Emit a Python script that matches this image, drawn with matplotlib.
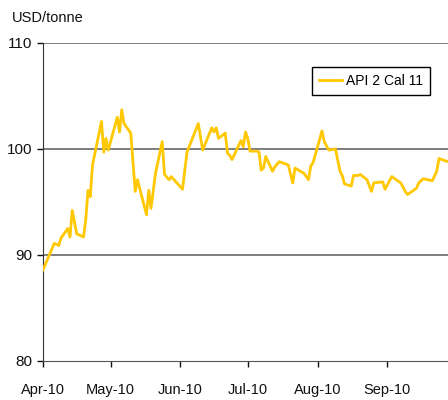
import pandas as pd
import matplotlib
matplotlib.use("Agg")
import matplotlib.pyplot as plt
import matplotlib.dates as mdates

plt.rcParams["font.family"] = ["Liberation Sans Narrow", "Liberation Sans", "DejaVu Sans"]

dates = ["2010-04-01", "2010-04-06", "2010-04-08", "2010-04-09", "2010-04-12", "2010-04-13",
         "2010-04-14", "2010-04-16", "2010-04-19", "2010-04-20", "2010-04-21", "2010-04-22",
         "2010-04-23", "2010-04-27", "2010-04-28", "2010-04-29", "2010-04-30", "2010-05-04",
         "2010-05-05", "2010-05-06", "2010-05-07", "2010-05-10", "2010-05-12", "2010-05-13",
         "2010-05-17", "2010-05-18", "2010-05-19", "2010-05-21", "2010-05-24", "2010-05-25",
         "2010-05-27", "2010-05-28", "2010-06-02", "2010-06-04", "2010-06-09", "2010-06-11",
         "2010-06-15", "2010-06-16", "2010-06-17", "2010-06-18", "2010-06-21", "2010-06-22",
         "2010-06-23", "2010-06-24", "2010-06-28", "2010-06-29", "2010-06-30", "2010-07-01",
         "2010-07-02", "2010-07-05", "2010-07-06", "2010-07-07", "2010-07-08", "2010-07-09",
         "2010-07-12", "2010-07-13", "2010-07-15", "2010-07-19", "2010-07-21", "2010-07-22",
         "2010-07-26", "2010-07-28", "2010-07-29", "2010-07-30", "2010-08-03", "2010-08-04",
         "2010-08-06", "2010-08-09", "2010-08-11", "2010-08-12", "2010-08-13", "2010-08-16",
         "2010-08-17", "2010-08-19", "2010-08-20", "2010-08-23", "2010-08-25", "2010-08-26",
         "2010-08-30", "2010-08-31", "2010-09-03", "2010-09-07", "2010-09-09", "2010-09-10",
         "2010-09-14", "2010-09-15", "2010-09-17", "2010-09-21", "2010-09-23", "2010-09-24",
         "2010-09-28"]
prices = [88.6, 91.1, 90.9, 91.6, 92.5, 91.7,
          94.2, 92.0, 91.7, 93.3, 96.1, 95.5,
          98.5, 102.6, 99.7, 101.0, 99.9, 103.0,
          101.6, 103.7, 102.4, 101.5, 96.0, 97.1,
          93.8, 96.1, 94.4, 97.7, 100.7, 97.6,
          97.1, 97.4, 96.2, 99.7, 102.4, 99.9,
          102.0, 101.6, 102.0, 101.0, 101.5, 99.6,
          99.4, 99.0, 100.8, 100.2, 101.6, 101.0,
          99.8, 99.8, 99.7, 98.0, 98.2, 99.3,
          97.9, 98.3, 98.8, 98.5, 96.8, 98.2,
          97.7, 97.1, 98.4, 98.7, 101.7, 100.7,
          99.9, 100.0, 97.9, 97.5, 96.7, 96.5,
          97.5, 97.5, 97.6, 97.1, 96.0, 96.8,
          96.9, 96.2, 97.4, 96.8, 96.0, 95.7,
          96.3, 96.8, 97.2, 97.0, 97.9, 99.1,
          98.8]
series_name = "API 2 Cal 11"

x = pd.to_datetime(dates)

fig = plt.figure(figsize=(4.48, 4.0), dpi=100)
ax = fig.add_axes([43/448, 1-361/400, 405/448, 318/400])

for v in [90, 100, 110]:
    ax.axhline(v, color="#5a5a5a", lw=1.1, zorder=1)
ax.plot(x, prices, color="#FFC800", lw=2.0, label=series_name, zorder=3)

ax.set_ylim(80, 110)
ax.set_yticks([80, 90, 100, 110])
ax.set_xlim(pd.Timestamp("2010-04-01"), pd.Timestamp("2010-09-28"))
ax.xaxis.set_major_locator(mdates.MonthLocator())
ax.xaxis.set_major_formatter(mdates.DateFormatter("%b-%y"))

for s in ["top", "right"]:
    ax.spines[s].set_visible(False)
ax.spines["left"].set_color("#333333")
ax.spines["bottom"].set_color("#555555")
ax.tick_params(axis="y", length=4, width=1, pad=4, labelsize=11, colors="#111111")
ax.tick_params(axis="x", length=4, width=1, pad=12, labelsize=10.5, colors="#111111")

leg = ax.legend(loc="upper right", bbox_to_anchor=(0.955, 0.925), fontsize=10,
                fancybox=False, edgecolor="black", framealpha=1, handlelength=1.6,
                handletextpad=0.3, borderpad=0.5, borderaxespad=0)
leg.get_frame().set_linewidth(1.0)

fig.text(12/448, 1-18/400, "USD/tonne", fontsize=10.5, va="center", ha="left", color="#111111")

fig.savefig("out.png", dpi=100)
